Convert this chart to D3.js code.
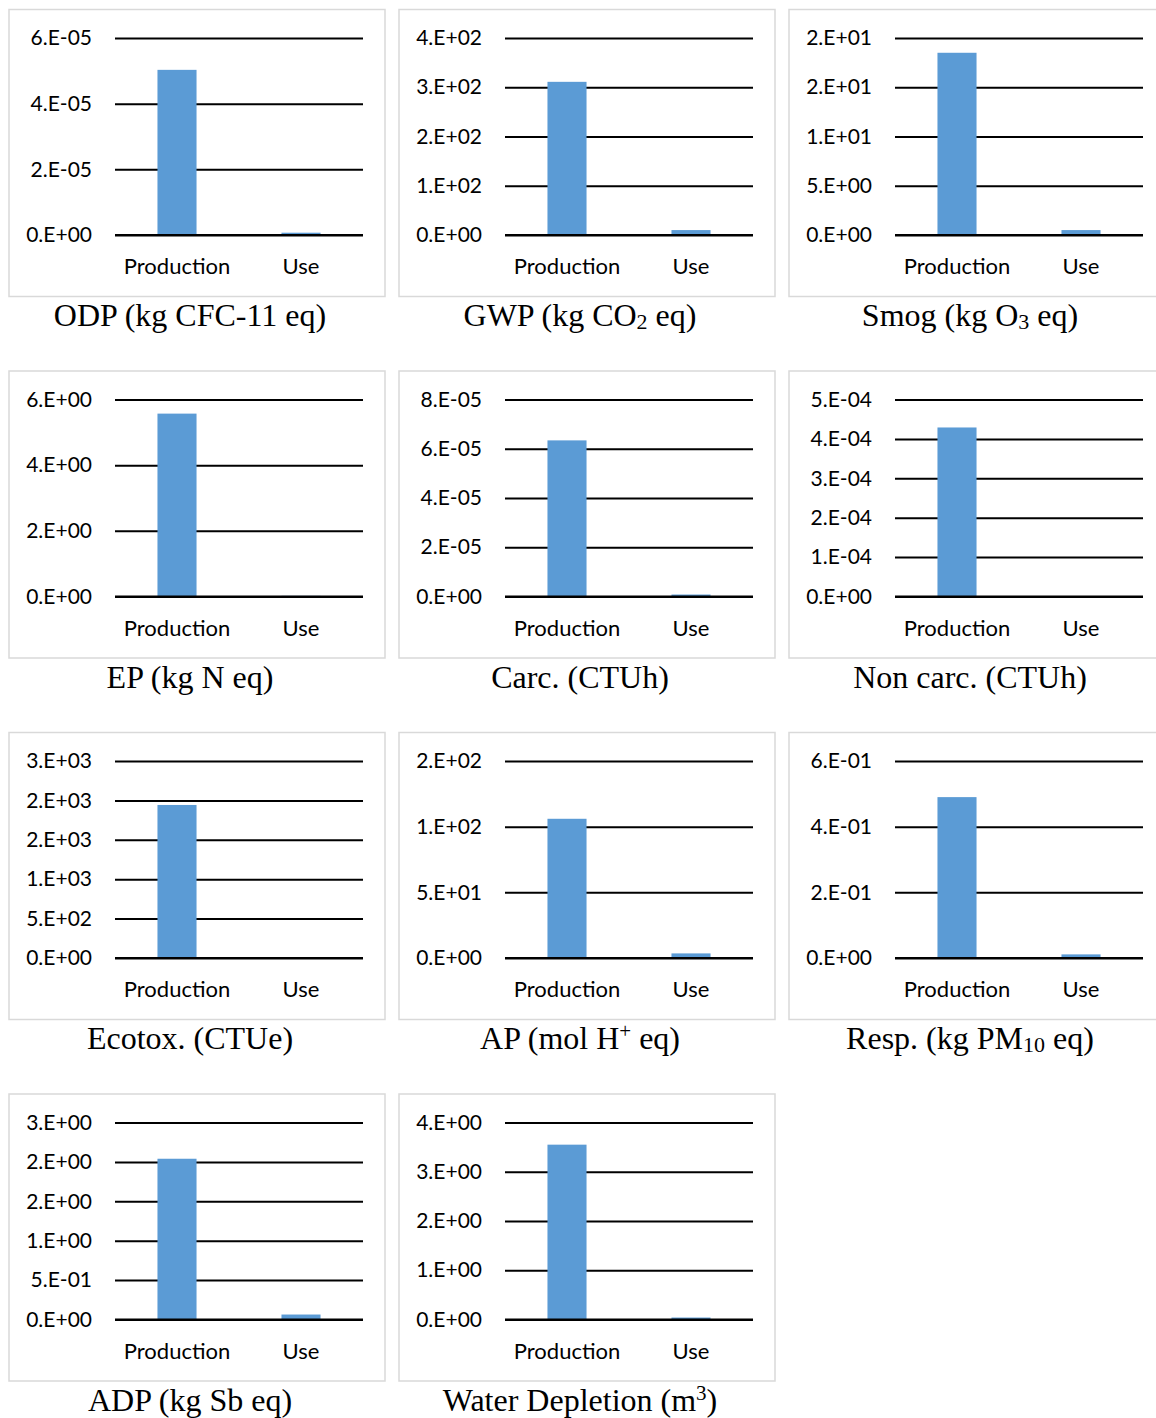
<!DOCTYPE html>
<html>
<head>
<meta charset="utf-8">
<script src="https://cdn.jsdelivr.net/npm/d3@7"></script>
<style>
  html, body { margin: 0; padding: 0; background: #fff; }
  svg { display: block; }
</style>
</head>
<body>
<svg id="chart" width="1156" height="1418"></svg>
<script>
// Life-cycle impact per category: production phase vs. use phase.
const categories = ["Production", "Use"];

// Panel titles, split into runs so that sub/superscripts can be set apart.
const titles = [
  [["ODP (kg CFC-11 eq)"]],
  [["GWP (kg CO"], ["2", "sub"], [" eq)"]],
  [["Smog (kg O"], ["3", "sub"], [" eq)"]],
  [["EP (kg N eq)"]],
  [["Carc. (CTUh)"]],
  [["Non carc. (CTUh)"]],
  [["Ecotox. (CTUe)"]],
  [["AP (mol H"], ["+", "sup"], [" eq)"]],
  [["Resp. (kg PM"], ["10", "sub"], [" eq)"]],
  [["ADP (kg Sb eq)"]],
  [["Water Depletion (m"], ["3", "sup"], [")"]]
];

const productionValues = [5.03e-5, 311, 18.5, 5.57, 6.34e-5, 4.29e-4, 1942, 106, 0.49, 2.04, 3.55];
const useValues        = [7e-7,    10,  0.5,  0.02, 8e-7,    1e-6,    10,   3.5, 0.011, 0.063, 0.04];

// Value axis extent and gridline spacing for every panel.
const axisMax  = [6e-5, 400, 20, 6, 8e-5, 5e-4, 2500, 150, 0.6, 2.5, 4];
const tickStep = [2e-5, 100, 5,  2, 2e-5, 1e-4, 500,  50,  0.2, 0.5, 1];

// Spreadsheet-style "0.E+00" number format (mantissa rounded to an integer).
function sciLabel(v) {
  if (Math.abs(v) < 1e-15) return "0.E+00";
  const parts = v.toExponential(0).split("e");
  const e = +parts[1];
  return parts[0] + ".E" + (e < 0 ? "-" : "+") + String(Math.abs(e)).padStart(2, "0");
}

const svg = d3.select("#chart");
svg.append("rect").attr("width", 1156).attr("height", 1418).attr("fill", "#fff");

const cols = 3;
const colStep = 390, rowStep = 361.5;
const panelX0 = 9, panelY0 = 9.5;
const panelW = 376, panelH = 287;
const plot = { left: 106, right: 354, top: 28.5, bottom: 225.5 };

const sansFont = "Lato, 'Open Sans', sans-serif";
const serifFont = "'Liberation Serif', 'Times New Roman', serif";

titles.forEach((title, i) => {
  const col = i % cols, row = Math.floor(i / cols);
  const g = svg.append("g")
    .attr("transform", `translate(${panelX0 + col * colStep},${panelY0 + row * rowStep})`);

  // chart frame
  g.append("rect")
    .attr("x", 0).attr("y", 0)
    .attr("width", panelW).attr("height", panelH)
    .attr("fill", "#fff")
    .attr("stroke", "#d9d9d9")
    .attr("stroke-width", 1.5);

  const x = d3.scaleBand()
    .domain(categories)
    .range([plot.left, plot.right])
    .paddingInner(0.685)
    .paddingOuter(0.3425);

  const y = d3.scaleLinear()
    .domain([0, axisMax[i]])
    .range([plot.bottom, plot.top]);

  const n = Math.round(axisMax[i] / tickStep[i]);
  const ticks = d3.range(n + 1).map(k => k * tickStep[i]);

  // horizontal gridlines with value labels
  const yAxis = g.append("g")
    .attr("transform", `translate(${plot.left},0)`)
    .call(d3.axisLeft(y)
      .tickValues(ticks)
      .tickSize(-(plot.right - plot.left))
      .tickPadding(23)
      .tickFormat(sciLabel));
  yAxis.select(".domain").remove();
  yAxis.selectAll(".tick line").attr("stroke", "#000").attr("stroke-width", 2);
  yAxis.selectAll(".tick text")
    .attr("font-family", sansFont)
    .attr("font-size", 21)
    .attr("fill", "#000");

  // bars
  const vals = [productionValues[i], useValues[i]];
  g.append("g").selectAll("rect")
    .data(categories.map((c, k) => ({ c, v: vals[k] })))
    .join("rect")
    .attr("x", d => x(d.c))
    .attr("width", x.bandwidth())
    .attr("y", d => y(d.v))
    .attr("height", d => y(0) - y(d.v))
    .attr("fill", "#5b9bd5");

  // baseline redrawn above bar feet
  g.append("line")
    .attr("x1", plot.left).attr("x2", plot.right)
    .attr("y1", y(0)).attr("y2", y(0))
    .attr("stroke", "#000").attr("stroke-width", 2);

  // category labels
  const xAxis = g.append("g")
    .attr("transform", `translate(0,${plot.bottom})`)
    .call(d3.axisBottom(x).tickSize(0));
  xAxis.select(".domain").remove();
  xAxis.selectAll(".tick text")
    .attr("dy", null)
    .attr("y", 39)
    .attr("font-family", sansFont)
    .attr("font-size", 22)
    .attr("fill", "#000");

  // panel title
  const t = g.append("text")
    .attr("x", 181)
    .attr("y", 316.5)
    .attr("text-anchor", "middle")
    .attr("font-family", serifFont)
    .attr("font-size", 32)
    .attr("fill", "#000");
  title.forEach(([txt, kind]) => {
    const span = t.append("tspan").text(txt);
    if (kind === "sub") span.attr("font-size", 22).attr("baseline-shift", "-3");
    if (kind === "sup") span.attr("font-size", 21).attr("baseline-shift", "11");
  });
});
</script>
</body>
</html>
